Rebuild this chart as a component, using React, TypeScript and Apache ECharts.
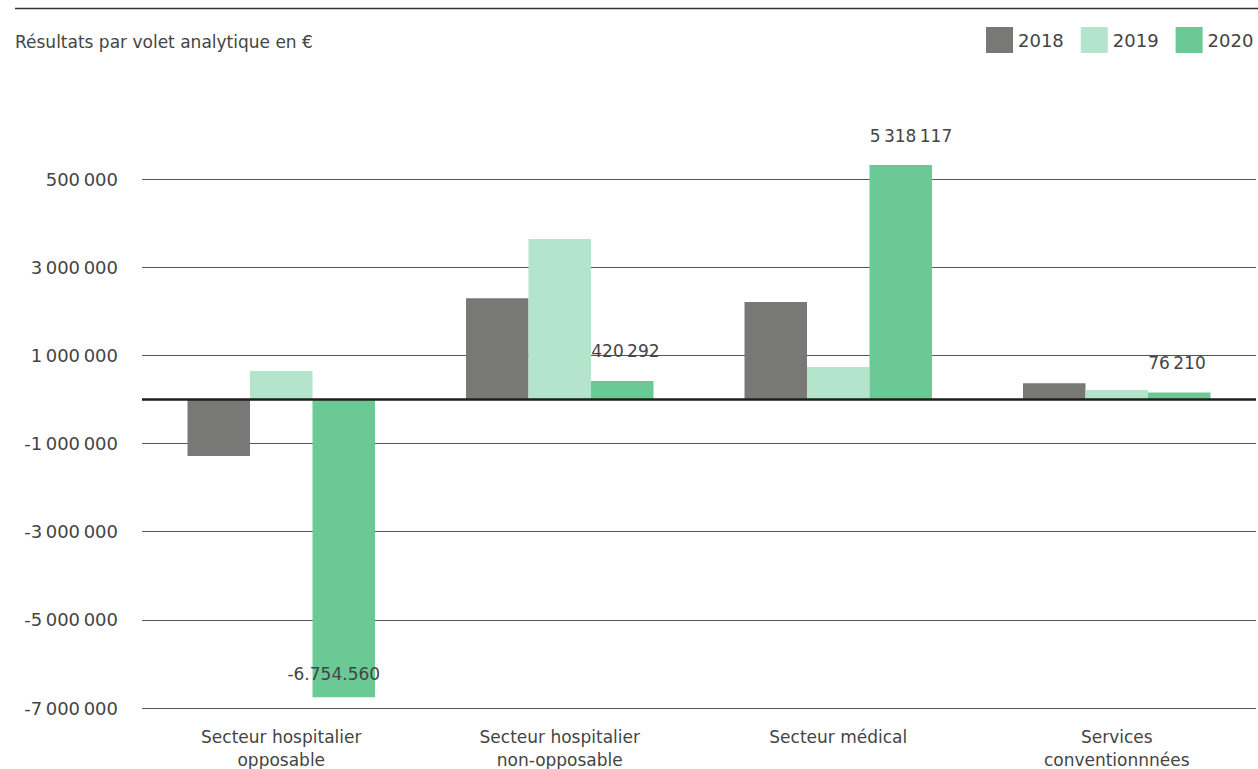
import React, { useEffect, useRef } from "react";
import * as echarts from "echarts";

const categories = [
  "Secteur hospitalier\nopposable",
  "Secteur hospitalier\nnon-opposable",
  "Secteur médical",
  "Services\nconventionnnées",
];
const years = ["2018", "2019", "2020"];
const values2018 = [-1280000, 2300000, 2210000, 370000];
const values2019 = [647000, 3640000, 737000, 216000];
const values2020 = [-6754560, 420292, 5318117, 160000];
const labels2020 = ["-6.754.560", "420\u2009292", "5\u2009318\u2009117", "76\u2009210"];
const yTickValues = [-7000000, -5000000, -3000000, -1000000, 1000000, 3000000, 5000000];
const yTickLabels = [
  "-7\u2009000\u2009000",
  "-5\u2009000\u2009000",
  "-3\u2009000\u2009000",
  "-1\u2009000\u2009000",
  "1\u2009000\u2009000",
  "3\u2009000\u2009000",
  "500\u2009000",
];
const title = "Résultats par volet analytique en €";

const COLORS = ["#787876", "#b4e5cc", "#6ac995"];
const FONT = "DejaVu Sans";
const TEXT = "#444444";

export default function App() {
  const ref = useRef<HTMLDivElement>(null);
  useEffect(() => {
    document.body.style.margin = "0";
    const chart = echarts.init(ref.current!, null, { renderer: "svg" });
    const seriesValues = [values2018, values2019, values2020];
    const series: any[] = years.map((y, si) => ({
      name: y,
      type: "bar",
      barWidth: 62.5,
      barGap: "0%",
      itemStyle: { color: COLORS[si] },
      data: seriesValues[si].map((v) => {
        if (si === 2 && v < 0) {
          return {
            value: v,
            label: { position: "insideBottom", distance: 15, align: "center", offset: [-10, 0] },
          };
        }
        return v;
      }),
      label:
        si === 2
          ? {
              show: true,
              position: "top",
              distance: 21,
              align: "left",
              offset: [-31, 0],
              color: TEXT,
              fontFamily: FONT,
              fontSize: 17,
              formatter: (p: any) => labels2020[p.dataIndex],
            }
          : { show: false },
      markLine:
        si === 2
          ? {
              silent: true,
              symbol: "none",
              label: { show: false },
              lineStyle: { color: "#1e1e1e", width: 2.5, type: "solid" },
              data: [{ yAxis: 0 }],
              z: 10,
            }
          : undefined,
    }));
    chart.setOption({
      animation: false,
      textStyle: { fontFamily: FONT },
      legend: {
        left: 986,
        top: 27,
        width: 400,
        padding: 0,
        itemWidth: 27,
        itemHeight: 26,
        itemGap: 17,
        icon: "rect",
        textStyle: { color: TEXT, fontFamily: FONT, fontSize: 18 },
        data: years,
      },
      graphic: [
        {
          type: "line",
          shape: { x1: 15, y1: 8.5, x2: 1258, y2: 8.5 },
          style: { stroke: "#333333", lineWidth: 1.5 },
        },
        {
          type: "text",
          left: 15,
          top: 33,
          style: { text: title, fill: TEXT, fontFamily: FONT, fontSize: 17 },
        },
      ],
      grid: { left: 142, right: 2, top: 91, bottom: 61, outerBoundsMode: "none", containLabel: false },
      xAxis: {
        type: "category",
        data: categories,
        axisLine: { show: false, onZero: false },
        axisTick: { show: false },
        axisLabel: {
          color: TEXT,
          fontFamily: FONT,
          fontSize: 17,
          lineHeight: 23,
          margin: 17,
          interval: 0,
        },
      },
      yAxis: {
        type: "value",
        min: -7000000,
        max: 7000000,
        interval: 2000000,
        axisLine: { show: false },
        axisTick: { show: false },
        splitLine: {
          show: true,
          showMaxLine: false,
          lineStyle: { color: "#555555", width: 1 },
        },
        axisLabel: {
          color: TEXT,
          fontFamily: FONT,
          fontSize: 18,
          margin: 24,
          showMaxLabel: false,
          formatter: (v: number) => {
            const i = yTickValues.indexOf(v);
            return i >= 0 ? yTickLabels[i] : "";
          },
        },
      },
      series,
    });
    return () => chart.dispose();
  }, []);
  return <div ref={ref} style={{ width: 1258, height: 769 }} />;
}
